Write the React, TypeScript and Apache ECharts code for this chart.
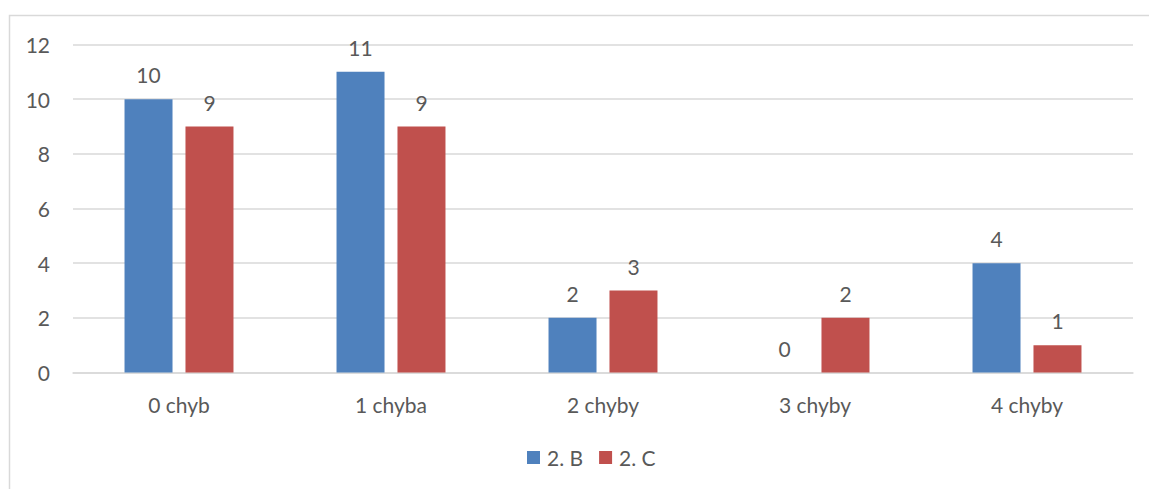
import React, { useEffect, useRef } from "react";
import * as echarts from "echarts";

const categories = ["0 chyb", "1 chyba", "2 chyby", "3 chyby", "4 chyby"];
const seriesB = [10, 11, 2, 0, 4];
const seriesC = [9, 9, 3, 2, 1];
const seriesNames = ["2. B", "2. C"];
const colors = ["#4f81bd", "#c0504d"];
const FONT = "Lato";
const TEXT = "#595959";
const FS = 21;

export default function App() {
  const ref = useRef<HTMLDivElement>(null);
  useEffect(() => {
    document.body.style.margin = "0";
    const chart = echarts.init(ref.current!, null, { renderer: "svg" });
    const label = {
      show: true,
      position: "top" as const,
      distance: 14,
      color: TEXT,
      fontFamily: FONT,
      fontSize: FS,
    };
    chart.setOption({
      animation: false,
      backgroundColor: "#ffffff",
      textStyle: { fontFamily: FONT },
      graphic: [
        {
          type: "rect",
          shape: { x: 9.5, y: 15.5, width: 1300, height: 600 },
          style: { fill: "none", stroke: "#d9d9d9", lineWidth: 1.5 },
          silent: true,
        },
      ],
      grid: { left: 73, right: 16, top: 44.5, bottom: 116.5, containLabel: false },
      legend: {
        data: seriesNames,
        top: 447,
        left: 527,
        padding: 0,
        itemWidth: 13,
        itemHeight: 13,
        itemGap: 16,
        icon: "rect",
        textStyle: { color: TEXT, fontFamily: FONT, fontSize: FS, padding: [0, 0, 0, 2] },
      },
      xAxis: {
        type: "category",
        data: categories,
        axisLine: { lineStyle: { color: "#d9d9d9", width: 1.5 } },
        axisTick: { show: false },
        axisLabel: { color: TEXT, fontFamily: FONT, fontSize: FS, margin: 21 },
      },
      yAxis: {
        type: "value",
        min: 0,
        max: 12,
        interval: 2,
        axisLine: { show: false },
        axisTick: { show: false },
        splitLine: { lineStyle: { color: "#d9d9d9", width: 1.5 } },
        axisLabel: { color: TEXT, fontFamily: FONT, fontSize: FS, margin: 23 },
      },
      series: [
        {
          name: seriesNames[0],
          type: "bar",
          data: seriesB,
          itemStyle: { color: colors[0] },
          barWidth: 48,
          barGap: "27%",
          label,
        },
        {
          name: seriesNames[1],
          type: "bar",
          data: seriesC,
          itemStyle: { color: colors[1] },
          barWidth: 48,
          barGap: "27%",
          label,
        },
      ],
    });
    return () => chart.dispose();
  }, []);
  return <div ref={ref} style={{ width: 1149, height: 489 }} />;
}
